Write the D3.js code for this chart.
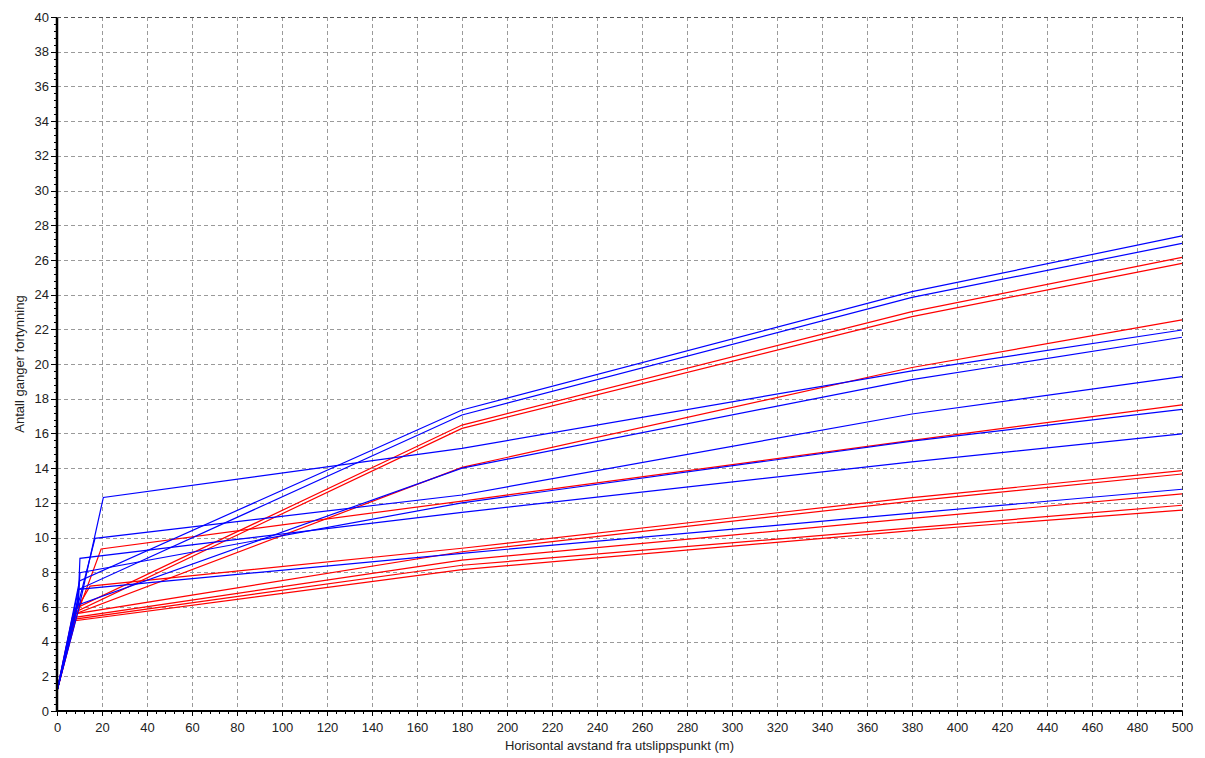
<!DOCTYPE html>
<html lang="no">
<head>
<meta charset="UTF-8">
<title>Antall ganger fortynning</title>
<script src="https://d3js.org/d3.v7.min.js"></script>
<style>
  body { margin: 0; background: #fff; }
  svg { display: block; font-family: Arial, "Liberation Sans", sans-serif; }
  .grid line { stroke: #9a9a9a; stroke-dasharray: 4,3; shape-rendering: crispEdges; }
  .axis text { font-size: 13px; fill: #222; }
  .axis line { stroke: #000; shape-rendering: crispEdges; }
</style>
</head>
<body>
<svg width="1205" height="758"></svg>
<script>
// tick values
const xTicks = d3.range(0, 501, 20);
const yTicks = d3.range(0, 41, 2);

// far-field distances shared by all curves
const farX = [180, 380, 500];

// near-field vertices [x, y] for each curve, then dilution at farX
const blueNear = [
  [[0, 1.15], [10, 7.5]],
  [[0, 1.15], [9.5, 7.0]],
  [[0, 1.15], [9.5, 5.8], [20.6, 12.31]],
  [[0, 1.15], [9, 6.1]],
  [[0, 1.15], [9.5, 6.2], [16.9, 9.95]],
  [[0, 1.15], [9.5, 6.3], [10.2, 7.97]],
  [[0, 1.15], [9.5, 6.6], [10.2, 8.8]],
  [[0, 1.15], [9, 6.2], [9.5, 7.01]]
];
const blueFar = [
  [17.35, 24.17, 27.38],
  [17.06, 23.84, 26.95],
  [15.14, 19.6, 21.96],
  [14.0, 19.1, 21.54],
  [12.45, 17.12, 19.27],
  [12.0, 15.55, 17.39],
  [11.45, 14.36, 15.97],
  [9.09, 11.4, 12.78]
];

const redNear = [
  [[0, 1.15], [8, 5.9]],
  [[0, 1.15], [8, 5.7]],
  [[0, 1.15], [8, 5.6]],
  [[0, 1.15], [9, 5.6], [19.6, 9.34]],
  [[0, 1.15], [7, 5.5], [14.7, 7.2]],
  [[0, 1.15], [8, 5.6]],
  [[0, 1.15], [8, 5.4]],
  [[0, 1.15], [8, 5.3]],
  [[0, 1.15], [8, 5.2]]
];
const redFar = [
  [16.48, 23.02, 26.15],
  [16.29, 22.73, 25.80],
  [14.04, 19.8, 22.54],
  [12.1, 15.6, 17.64],
  [9.38, 12.3, 13.85],
  [9.18, 12.1, 13.66],
  [8.70, 11.1, 12.51],
  [8.4, 10.55, 11.86],
  [8.15, 10.4, 11.58]
];

const svg = d3.select("svg");
const margin = {top: 17, right: 23, bottom: 47, left: 57};
const width = +svg.attr("width") - margin.left - margin.right;
const height = +svg.attr("height") - margin.top - margin.bottom;
const g = svg.append("g").attr("transform", `translate(${margin.left},${margin.top})`);

const x = d3.scaleLinear().domain([0, 500]).range([0, width]);
const y = d3.scaleLinear().domain([0, 40]).range([height, 0]);

// dashed grid
g.append("g").attr("class", "grid")
  .selectAll("line").data(xTicks.slice(1)).enter().append("line")
  .attr("x1", d => Math.round(x(d)) + 0.5).attr("x2", d => Math.round(x(d)) + 0.5)
  .attr("y1", 0).attr("y2", height);
g.append("g").attr("class", "grid")
  .selectAll("line").data(yTicks.slice(1)).enter().append("line")
  .attr("y1", d => Math.round(y(d)) + 0.5).attr("y2", d => Math.round(y(d)) + 0.5)
  .attr("x1", 0).attr("x2", width);

// minor ticks
g.append("g").attr("class", "axis")
  .call(d3.axisLeft(y).tickValues(d3.range(0, 40.01, 0.4)).tickSize(3).tickFormat(""))
  .call(a => a.select(".domain").remove());
g.append("g").attr("class", "axis")
  .attr("transform", `translate(0,${height})`)
  .call(d3.axisBottom(x).tickValues(d3.range(0, 501, 4)).tickSize(3).tickFormat(""))
  .call(a => a.select(".domain").remove());

// major ticks + labels
g.append("g").attr("class", "axis")
  .call(d3.axisLeft(y).tickValues(yTicks).tickSize(6).tickPadding(2))
  .call(a => a.select(".domain").remove());
g.append("g").attr("class", "axis")
  .attr("transform", `translate(0,${height})`)
  .call(d3.axisBottom(x).tickValues(xTicks).tickSize(5).tickPadding(7))
  .call(a => a.select(".domain").remove());

// curves
const line = d3.line().x(d => x(d[0])).y(d => y(d[1]));
function curves(near, far, colour) {
  near.forEach((pts, i) => {
    const all = pts.concat(farX.map((fx, j) => [fx, far[i][j]]));
    g.append("path")
      .attr("d", line(all))
      .attr("fill", "none")
      .attr("stroke", colour)
      .attr("stroke-width", 1.2);
  });
}
curves(redNear, redFar, "#ff0000");
curves(blueNear, blueFar, "#0000ff");

// axis lines
g.append("line").attr("x1", 0).attr("x2", 0).attr("y1", 0).attr("y2", height)
  .attr("stroke", "#000").attr("stroke-width", 2.5);
g.append("line").attr("x1", 0).attr("x2", width).attr("y1", height).attr("y2", height)
  .attr("stroke", "#000").attr("stroke-width", 2);
g.append("line").attr("x1", width + 0.5).attr("x2", width + 0.5).attr("y1", 0).attr("y2", height)
  .attr("stroke", "#444").attr("stroke-dasharray", "4,3");
g.append("line").attr("x1", 0).attr("x2", width).attr("y1", 0.5).attr("y2", 0.5)
  .attr("stroke", "#555").attr("stroke-dasharray", "4,3");

// axis titles
svg.append("text")
  .attr("x", margin.left + width / 2).attr("y", 750)
  .attr("text-anchor", "middle").attr("font-size", 13).attr("fill", "#222")
  .text("Horisontal avstand fra utslippspunkt (m)");
svg.append("text")
  .attr("transform", `translate(24,${margin.top + height / 2}) rotate(-90)`)
  .attr("text-anchor", "middle").attr("font-size", 13).attr("fill", "#222")
  .text("Antall ganger fortynning");
</script>
</body>
</html>
